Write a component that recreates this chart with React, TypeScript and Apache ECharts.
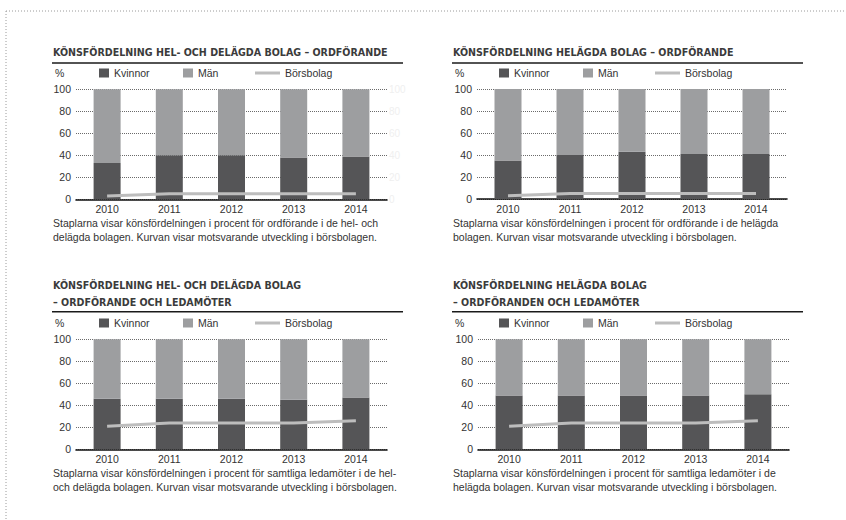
import React, { useEffect, useRef } from "react";
import * as echarts from "echarts";

const years = ["2010", "2011", "2012", "2013", "2014"];

const kvinnorA = [33, 40, 40, 38, 39];
const manA = [67, 60, 60, 62, 61];
const borsA = [3, 5, 5, 5, 5];

const kvinnorB = [35, 40, 43, 41, 41];
const manB = [65, 60, 57, 59, 59];
const borsB = [3, 5, 5, 5, 5];

const kvinnorC = [46, 46, 46, 45, 47];
const manC = [54, 54, 54, 55, 53];
const borsC = [21, 24, 24, 24, 26];

const kvinnorD = [49, 49, 49, 49, 50];
const manD = [51, 51, 51, 51, 50];
const borsD = [21, 24, 24, 24, 26];

const titlesA = ["KÖNSFÖRDELNING HEL- OCH DELÄGDA BOLAG – ORDFÖRANDE"];
const titlesB = ["KÖNSFÖRDELNING HELÄGDA BOLAG – ORDFÖRANDE"];
const titlesC = ["KÖNSFÖRDELNING HEL- OCH DELÄGDA BOLAG", "– ORDFÖRANDE OCH LEDAMÖTER"];
const titlesD = ["KÖNSFÖRDELNING HELÄGDA BOLAG", "– ORDFÖRANDEN OCH LEDAMÖTER"];

const captionA = [
  "Staplarna visar könsfördelningen i procent för ordförande i de hel- och",
  "delägda bolagen. Kurvan visar motsvarande utveckling i börsbolagen.",
];
const captionB = [
  "Staplarna visar könsfördelningen i procent för ordförande i de helägda",
  "bolagen. Kurvan visar motsvarande utveckling i börsbolagen.",
];
const captionC = [
  "Staplarna visar könsfördelningen i procent för samtliga ledamöter i de hel-",
  "och delägda bolagen. Kurvan visar motsvarande utveckling i börsbolagen.",
];
const captionD = [
  "Staplarna visar könsfördelningen i procent för samtliga ledamöter i de",
  "helägda bolagen. Kurvan visar motsvarande utveckling i börsbolagen.",
];

const seriesNames = ["Kvinnor", "Män", "Börsbolag"];

const FONT = "'Liberation Sans', Arial, sans-serif";
const TITLE_FONT = "'DejaVu Sans Condensed', 'DejaVu Sans', sans-serif";
const C_KV = "#555557";
const C_MAN = "#9d9ea0";
const C_BORS = "#bdbdbd";
const C_TEXT = "#333333";

type Panel = {
  left: number;
  width: number;
  titleX: number;
  titleY: number[];
  ruleX1: number;
  ruleX2: number;
  ruleY: number;
  legendY: number;
  gridTop: number;
  titles: string[];
  caption: string[];
  kv: number[];
  man: number[];
  bors: number[];
  ghost: boolean;
};

const panels: Panel[] = [
  {
    left: 76, width: 311, titleX: 53, titleY: [52], ruleX1: 52, ruleX2: 403, ruleY: 63,
    legendY: 73, gridTop: 89.3, titles: titlesA, caption: captionA,
    kv: kvinnorA, man: manA, bors: borsA, ghost: true,
  },
  {
    left: 477, width: 310, titleX: 453, titleY: [52], ruleX1: 452, ruleX2: 803, ruleY: 63,
    legendY: 73, gridTop: 89, titles: titlesB, caption: captionB,
    kv: kvinnorB, man: manB, bors: borsB, ghost: false,
  },
  {
    left: 76, width: 311, titleX: 53, titleY: [285, 302], ruleX1: 52, ruleX2: 403, ruleY: 311.7,
    legendY: 323, gridTop: 339.3, titles: titlesC, caption: captionC,
    kv: kvinnorC, man: manC, bors: borsC, ghost: false,
  },
  {
    left: 478, width: 311, titleX: 453, titleY: [285, 302], ruleX1: 452, ruleX2: 803, ruleY: 311.7,
    legendY: 323, gridTop: 339.3, titles: titlesD, caption: captionD,
    kv: kvinnorD, man: manD, bors: borsD, ghost: false,
  },
];

function buildOption() {
  const grid: any[] = [];
  const xAxis: any[] = [];
  const yAxis: any[] = [];
  const series: any[] = [];
  const legend: any[] = [];
  const graphic: any[] = [];

  // dotted page frame (top and left)
  graphic.push({
    type: "line",
    shape: { x1: 6, y1: 11, x2: 846, y2: 11 },
    style: { stroke: "#9a9a9a", lineWidth: 1, lineDash: [1, 2] },
    silent: true,
  });
  graphic.push({
    type: "line",
    shape: { x1: 6, y1: 11, x2: 6, y2: 520 },
    style: { stroke: "#9a9a9a", lineWidth: 1, lineDash: [1, 2] },
    silent: true,
  });

  panels.forEach((p, i) => {
    grid.push({ left: p.left, top: p.gridTop, width: p.width, height: 110, containLabel: false });
    xAxis.push({
      type: "category",
      gridIndex: i,
      data: years,
      axisLine: { show: true, lineStyle: { color: "#111", width: 1.6 } },
      axisTick: { show: false },
      axisLabel: { color: C_TEXT, fontFamily: FONT, fontSize: 10.5, margin: 4 },
      splitLine: { show: false },
    });
    const yIdx = yAxis.length;
    yAxis.push({
      type: "value",
      gridIndex: i,
      min: 0,
      max: 100,
      interval: 20,
      axisLine: { show: false },
      axisTick: { show: false },
      axisLabel: { color: C_TEXT, fontFamily: FONT, fontSize: 10.5, margin: 5 },
      splitLine: { show: true, lineStyle: { color: "#444", type: [1, 1], width: 0.8 } },
    });
    if (p.ghost) {
      yAxis.push({
        type: "value",
        gridIndex: i,
        position: "right",
        min: 0,
        max: 100,
        interval: 20,
        axisLine: { show: false },
        axisTick: { show: false },
        axisLabel: { color: "#efefef", fontFamily: FONT, fontSize: 10, margin: 2 },
        splitLine: { show: false },
      });
    }
    series.push({
      name: seriesNames[0],
      type: "bar",
      xAxisIndex: i,
      yAxisIndex: yIdx,
      stack: "s" + i,
      data: p.kv,
      barWidth: 27,
      itemStyle: { color: C_KV },
      emphasis: { disabled: true },
    });
    series.push({
      name: seriesNames[1],
      type: "bar",
      xAxisIndex: i,
      yAxisIndex: yIdx,
      stack: "s" + i,
      data: p.man,
      barWidth: 27,
      itemStyle: { color: C_MAN },
      emphasis: { disabled: true },
    });
    series.push({
      name: seriesNames[2],
      type: "line",
      xAxisIndex: i,
      yAxisIndex: yIdx,
      data: p.bors,
      showSymbol: false,
      symbol: "none",
      color: C_BORS,
      lineStyle: { color: C_BORS, width: 3 },
      z: 5,
      emphasis: { disabled: true },
    });

    const base = p.titleX;
    const legCommon = {
      top: p.legendY - 6,
      padding: 0,
      selectedMode: false,
      textStyle: { color: C_TEXT, fontFamily: FONT, fontSize: 10.5, lineHeight: 12 },
    };
    legend.push({
      ...legCommon,
      left: base + 46,
      itemWidth: 10,
      itemHeight: 9,
      data: [{ name: seriesNames[0], icon: "rect" }],
    });
    legend.push({
      ...legCommon,
      left: base + 130,
      itemWidth: 10,
      itemHeight: 9,
      data: [{ name: seriesNames[1], icon: "rect" }],
    });
    legend.push({
      ...legCommon,
      left: base + 202,
      itemWidth: 25,
      itemHeight: 3,
      data: [{ name: seriesNames[2], icon: "rect" }],
    });

    // "%" unit label
    graphic.push({
      type: "text",
      x: base + 2,
      y: p.legendY,
      silent: true,
      style: {
        text: "%",
        fill: C_TEXT,
        fontFamily: FONT,
        fontSize: 10.5,
        verticalAlign: "middle",
      },
    });

    // titles
    p.titles.forEach((t, k) => {
      graphic.push({
        type: "text",
        x: p.titleX,
        y: p.titleY[k],
        silent: true,
        style: {
          text: t,
          fill: "#3b3b3b",
          fontFamily: TITLE_FONT,
          fontWeight: "bold",
          fontSize: 10.6,
          verticalAlign: "middle",
        },
      });
    });

    // rule under title
    graphic.push({
      type: "line",
      silent: true,
      shape: { x1: p.ruleX1, y1: p.ruleY, x2: p.ruleX2, y2: p.ruleY },
      style: { stroke: "#1a1a1a", lineWidth: 1.5 },
    });

    // captions
    const capY0 = p.gridTop + 133.5;
    p.caption.forEach((c, k) => {
      graphic.push({
        type: "text",
        x: p.titleX,
        y: capY0 + k * 14,
        silent: true,
        style: {
          text: c,
          fill: C_TEXT,
          fontFamily: FONT,
          fontSize: 10.5,
          verticalAlign: "middle",
        },
      });
    });
  });

  return {
    animation: false,
    backgroundColor: "#ffffff",
    grid,
    xAxis,
    yAxis,
    series,
    legend,
    graphic: { elements: graphic },
  };
}

export default function App() {
  const ref = useRef<HTMLDivElement | null>(null);
  useEffect(() => {
    if (!ref.current) return;
    const chart = echarts.init(ref.current, undefined, { renderer: "svg" });
    chart.setOption(buildOption() as any);
    return () => {
      chart.dispose();
    };
  }, []);
  return (
    <div
      ref={ref}
      style={{ position: "fixed", left: 0, top: 0, width: 846, height: 520, background: "#fff" }}
    />
  );
}
